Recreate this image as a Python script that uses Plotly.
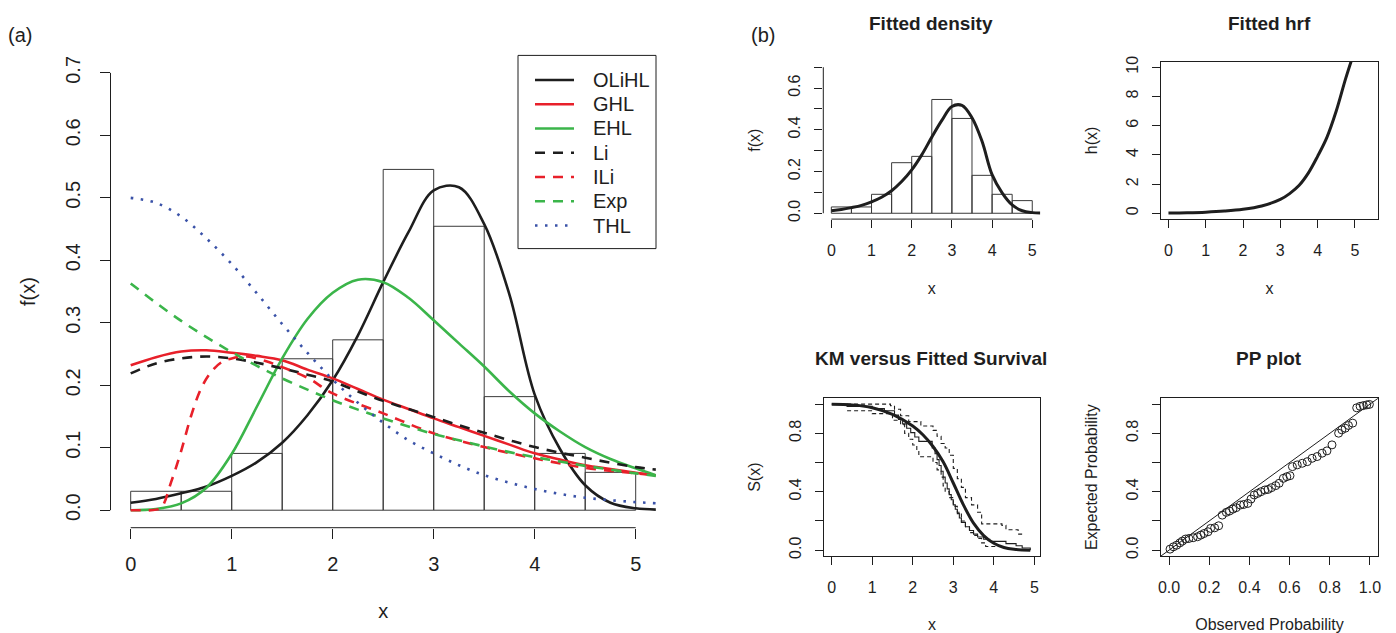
import plotly.graph_objects as go

# ---------------- data ----------------
bin_edges = [0, 0.5, 1.0, 1.5, 2.0, 2.5, 3.0, 3.5, 4.0, 4.5, 5.0]
hist_density = [0.0303, 0.0303, 0.0909, 0.2424, 0.2727, 0.5455, 0.4545, 0.1818, 0.0909, 0.0606]

x_grid = [0, 0.25, 0.5, 0.75, 1.0, 1.25, 1.5, 1.75, 2.0, 2.25, 2.5, 2.75,
          3.0, 3.25, 3.5, 3.75, 4.0, 4.25, 4.5, 4.75, 5.0, 5.2]
olihl = [0.012, 0.018, 0.027, 0.038, 0.055, 0.077, 0.108, 0.152, 0.208, 0.280, 0.365, 0.445,
         0.512, 0.517, 0.458, 0.345, 0.185, 0.098, 0.040, 0.012, 0.003, 0.001]
ghl = [0.232, 0.245, 0.254, 0.256, 0.252, 0.247, 0.240, 0.225, 0.211, 0.194, 0.177, 0.162,
       0.147, 0.133, 0.119, 0.105, 0.091, 0.081, 0.072, 0.066, 0.060, 0.056]
ehl = [0.0, 0.002, 0.011, 0.036, 0.090, 0.166, 0.243, 0.306, 0.348, 0.369, 0.365, 0.340,
       0.304, 0.267, 0.230, 0.190, 0.155, 0.126, 0.101, 0.082, 0.067, 0.056]
li = [0.219, 0.235, 0.243, 0.246, 0.243, 0.236, 0.227, 0.217, 0.206, 0.190, 0.175, 0.162,
      0.149, 0.136, 0.124, 0.112, 0.101, 0.092, 0.084, 0.076, 0.069, 0.065]
exp_ = [0.363, 0.332, 0.303, 0.277, 0.253, 0.231, 0.211, 0.193, 0.176, 0.161, 0.147, 0.134,
        0.122, 0.112, 0.102, 0.093, 0.085, 0.078, 0.071, 0.065, 0.059, 0.055]
thl = [0.500, 0.492, 0.470, 0.435, 0.394, 0.347, 0.298, 0.252, 0.209, 0.172, 0.140, 0.112,
       0.091, 0.072, 0.056, 0.044, 0.034, 0.026, 0.020, 0.016, 0.013, 0.011]
ili_x = [0, 0.1, 0.2, 0.3, 0.4, 0.5, 0.6, 0.7, 0.8, 0.9, 1.0, 1.15, 1.35, 1.5, 1.75,
         2.0, 2.5, 3.0, 3.5, 4.0, 4.5, 5.0, 5.2]
ili = [0.0, 0.0, 0.0, 0.004, 0.045, 0.095, 0.152, 0.196, 0.222, 0.237, 0.243, 0.246, 0.238,
       0.229, 0.212, 0.187, 0.155, 0.123, 0.101, 0.083, 0.068, 0.059, 0.056]

hrf_x = [0, 0.5, 1.0, 1.5, 2.0, 2.5, 3.0, 3.25, 3.5, 3.75, 4.0, 4.25, 4.5, 4.75, 4.95]
hrf = [0.02, 0.04, 0.08, 0.15, 0.27, 0.50, 0.95, 1.35, 1.90, 2.75, 3.90, 5.20, 7.00, 9.20, 10.80]

surv_x = [0, 0.5, 1.0, 1.5, 2.0, 2.25, 2.5, 2.75, 3.0, 3.25, 3.5, 3.75, 4.0, 4.25, 4.5, 4.9]
surv_fit = [1.0, 0.995, 0.975, 0.93, 0.85, 0.79, 0.71, 0.605, 0.46, 0.31, 0.185, 0.10,
            0.047, 0.018, 0.006, 0.0]

km_t = [0, 0.38, 1.0, 1.3, 1.55, 1.65, 1.75, 1.85, 1.95, 2.05, 2.15, 2.48, 2.55, 2.6, 2.65,
        2.7, 2.75, 2.8, 2.85, 2.9, 2.95, 3.0, 3.05, 3.1, 3.15, 3.2, 3.3, 3.4, 3.5, 3.6, 3.75,
        3.9, 4.3, 4.55, 4.7, 4.9]
km_s = [1.0, 0.985, 0.97, 0.955, 0.925, 0.895, 0.865, 0.835, 0.805, 0.775, 0.745, 0.70, 0.66,
        0.62, 0.58, 0.54, 0.50, 0.46, 0.42, 0.38, 0.345, 0.31, 0.28, 0.25, 0.22, 0.19, 0.16,
        0.135, 0.11, 0.09, 0.075, 0.06, 0.045, 0.03, 0.015, 0.0]
km_up_t = [0.38, 1.45, 1.55, 1.7, 1.9, 2.2, 2.5, 2.6, 2.7, 2.8, 2.9, 3.0, 3.1, 3.2, 3.3,
           3.45, 3.6, 3.7, 4.2, 4.3, 4.6, 4.75]
km_up = [1.0, 0.99, 0.965, 0.92, 0.88, 0.85, 0.82, 0.78, 0.73, 0.70, 0.65, 0.56, 0.49, 0.43,
         0.36, 0.31, 0.26, 0.18, 0.17, 0.14, 0.11, 0.11]
km_lo_t = [0.38, 1.0, 1.5, 1.7, 1.8, 1.9, 2.0, 2.1, 2.15, 2.5, 2.6, 2.7, 2.75, 2.8, 2.9, 3.0,
           3.1, 3.2, 3.3, 3.4, 3.5, 3.6, 3.7, 3.8, 4.25]
km_lo = [0.955, 0.935, 0.89, 0.86, 0.80, 0.76, 0.72, 0.68, 0.64, 0.60, 0.55, 0.50, 0.44,
         0.40, 0.36, 0.30, 0.26, 0.20, 0.16, 0.12, 0.10, 0.08, 0.05, 0.025, 0.025]

pp_obs = [0.005, 0.022, 0.038, 0.054, 0.066, 0.082, 0.099, 0.120, 0.142, 0.158, 0.174, 0.194,
          0.207, 0.227, 0.247,
          0.265, 0.285, 0.301, 0.318, 0.334, 0.355, 0.372, 0.392, 0.408, 0.424, 0.441, 0.457,
          0.477, 0.493, 0.510, 0.531, 0.548, 0.569, 0.586, 0.602,
          0.614, 0.638, 0.663, 0.688, 0.712, 0.737, 0.762, 0.786, 0.811,
          0.844, 0.860, 0.877, 0.893, 0.914,
          0.934, 0.951, 0.967, 0.984, 0.997]
pp_exp = [0.007, 0.023, 0.034, 0.050, 0.062, 0.076, 0.080, 0.085, 0.092, 0.103, 0.114, 0.126,
          0.149, 0.153, 0.167,
          0.240, 0.259, 0.268, 0.281, 0.291, 0.309, 0.313, 0.320, 0.350, 0.378, 0.389, 0.400,
          0.412, 0.416, 0.428, 0.442, 0.458, 0.492, 0.503, 0.510,
          0.572, 0.584, 0.595, 0.606, 0.629, 0.641, 0.664, 0.680, 0.721,
          0.801, 0.824, 0.835, 0.854, 0.870,
          0.975, 0.985, 0.990, 0.995, 0.998]

# ---------------- styling ----------------
FONT = "Liberation Sans, Arial, Helvetica, sans-serif"
INK = "#1e1e1e"
RED = "#E8202A"
GREEN = "#3BB54A"
BLUE = "#3A52A8"
W, H = 1396, 633
DASH = "10px,8px"
DOT = "2.5px,7.5px"


def xd(p0, p1):
    return [p0 / W, p1 / W]


def yd(p_top, p_bot):
    return [1 - p_bot / H, 1 - p_top / H]


bin_centers = [(a + b) / 2 for a, b in zip(bin_edges[:-1], bin_edges[1:])]
bin_width = bin_edges[1] - bin_edges[0]

fig = go.Figure()

# ---- panel (a) ----
fig.add_trace(go.Bar(x=bin_centers, y=hist_density, width=bin_width, xaxis="x", yaxis="y",
                     marker=dict(color="rgba(0,0,0,0)", line=dict(color="#3a3a3a", width=1)),
                     showlegend=False, hoverinfo="skip"))
series = [
    ("OLiHL", x_grid, olihl, INK, "solid"),
    ("GHL", x_grid, ghl, RED, "solid"),
    ("EHL", x_grid, ehl, GREEN, "solid"),
    ("Li", x_grid, li, INK, DASH),
    ("ILi", ili_x, ili, RED, DASH),
    ("Exp", x_grid, exp_, GREEN, DASH),
    ("THL", x_grid, thl, BLUE, DOT),
]
for name, xs, ys, col, dash in series:
    fig.add_trace(go.Scatter(x=xs, y=ys, name=name, mode="lines", xaxis="x", yaxis="y",
                             line=dict(color=col, width=2.6, dash=dash, shape="spline",
                                       smoothing=1.0), showlegend=False))

# ---- panel (b): fitted density ----
fig.add_trace(go.Bar(x=bin_centers, y=hist_density, width=bin_width, xaxis="x2", yaxis="y2",
                     marker=dict(color="rgba(0,0,0,0)", line=dict(color="#3a3a3a", width=1)),
                     showlegend=False, hoverinfo="skip"))
fig.add_trace(go.Scatter(x=x_grid, y=olihl, mode="lines", xaxis="x2", yaxis="y2",
                         line=dict(color=INK, width=3, shape="spline", smoothing=1.0),
                         showlegend=False))

# ---- fitted hrf ----
fig.add_trace(go.Scatter(x=hrf_x, y=hrf, mode="lines", xaxis="x3", yaxis="y3",
                         line=dict(color=INK, width=3, shape="spline", smoothing=1.0),
                         showlegend=False))

# ---- KM vs fitted survival ----
for xs, ys in [(km_up_t, km_up), (km_lo_t, km_lo)]:
    fig.add_trace(go.Scatter(x=xs, y=ys, mode="lines", xaxis="x4", yaxis="y4",
                             line=dict(color=INK, width=1.1, dash="4px,3px", shape="hv"),
                             showlegend=False))
fig.add_trace(go.Scatter(x=km_t, y=km_s, mode="lines", xaxis="x4", yaxis="y4",
                         line=dict(color=INK, width=1.1, shape="hv"), showlegend=False))
fig.add_trace(go.Scatter(x=surv_x, y=surv_fit, mode="lines", xaxis="x4", yaxis="y4",
                         line=dict(color=INK, width=3, shape="spline", smoothing=1.0),
                         showlegend=False))

# ---- PP plot ----
pp_range = [-0.04, 1.04]
fig.add_trace(go.Scatter(x=pp_range, y=pp_range, mode="lines", xaxis="x5", yaxis="y5",
                         line=dict(color=INK, width=1), showlegend=False))
fig.add_trace(go.Scatter(x=pp_obs, y=pp_exp, mode="markers", xaxis="x5", yaxis="y5",
                         marker=dict(symbol="circle-open", size=8, color=INK,
                                     line=dict(width=1, color=INK)),
                         showlegend=False))


def axis(domain, rng, tickvals, ticktext, anchor, fsize, title, tfsize, standoff,
         ticklen, tls, box=False, angle=0):
    d = dict(domain=domain, range=rng, tickvals=tickvals, ticktext=ticktext, anchor=anchor,
             ticks="outside", ticklen=ticklen, tickwidth=1, tickcolor=INK,
             showgrid=False, zeroline=False, tickangle=angle,
             tickfont=dict(family=FONT, size=fsize, color=INK),
             title=dict(text=title, font=dict(family=FONT, size=tfsize, color=INK),
                        standoff=standoff),
             ticklabelstandoff=tls, automargin=False, fixedrange=True)
    if box:
        d.update(showline=True, linecolor=INK, linewidth=1, mirror=True)
    else:
        d.update(showline=False)
    return d


def labels(vals, keep_every=1, fmt="{:.1f}"):
    return [fmt.format(v) if i % keep_every == 0 else "" for i, v in enumerate(vals)]


xt5 = [0, 1, 2, 3, 4, 5]
xt5_txt = [str(v) for v in xt5]
ya_vals = [0.0, 0.1, 0.2, 0.3, 0.4, 0.5, 0.6, 0.7]
yb_vals = [0.0, 0.2, 0.4, 0.6, 0.8, 1.0]
hrf_vals = [0, 2, 4, 6, 8, 10]
pp_x_vals = [0.0, 0.2, 0.4, 0.6, 0.8, 1.0]

fig.update_layout(
    width=W, height=H, margin=dict(l=0, r=0, t=0, b=0), autosize=False,
    paper_bgcolor="white", plot_bgcolor="white", barmode="overlay",
    font=dict(family=FONT, color=INK), showlegend=False, hovermode=False,
    xaxis=axis(xd(110.5, 655.9), [-0.2, 5.2], xt5, xt5_txt, "y", 20, "x", 20, 30, 10, 8),
    yaxis=axis(yd(55.4, 527.7), [-0.028, 0.728], ya_vals, labels(ya_vals), "x", 20, "f(x)",
               20, 20, 10, 12, angle=-90),
    xaxis2=axis(xd(823.3, 1040.3), [-0.2, 5.2], xt5, xt5_txt, "y2", 16, "x", 16, 24, 8, 9),
    yaxis2=axis(yd(61.4, 219.1), [-0.028, 0.728], ya_vals, labels(ya_vals, 2), "x2", 16,
                "f(x)", 16, 21, 8, 8, angle=-90),
    xaxis3=axis(xd(1161, 1378), [-0.2, 5.62], xt5, xt5_txt, "y3", 16, "x", 16, 24, 8, 9,
                box=True),
    yaxis3=axis(yd(61.7, 219), [-0.39, 10.38], hrf_vals, [str(v) for v in hrf_vals], "x3", 16,
                "h(x)", 16, 21, 8, 8, box=True, angle=-90),
    xaxis4=axis(xd(824, 1040), [-0.19, 5.14], xt5, xt5_txt, "y4", 16, "x", 16, 24, 8, 9,
                box=True),
    yaxis4=axis(yd(398.3, 556), [-0.04, 1.04], yb_vals, labels(yb_vals, 2), "x4", 16,
                "S(x)", 16, 21, 8, 8, box=True, angle=-90),
    xaxis5=axis(xd(1161, 1378), pp_range, pp_x_vals, labels(pp_x_vals), "y5", 16,
                "Observed Probability", 16, 24, 8, 9, box=True),
    yaxis5=axis(yd(398.3, 556), pp_range, yb_vals, labels(yb_vals, 2), "x5", 16,
                "Expected Probability", 16, 21, 8, 8, box=True, angle=-90),
)

# R-style axis lines spanning first..last tick (no box) for panel (a) and fitted density
shapes = []
for xa, ya, xt, yt in [("x", "y", xt5, ya_vals), ("x2", "y2", xt5, ya_vals)]:
    shapes.append(dict(type="line", xref=xa, yref=f"{ya} domain", x0=xt[0], x1=xt[-1],
                       y0=0, y1=0, line=dict(color=INK, width=1)))
    shapes.append(dict(type="line", xref=f"{xa} domain", yref=ya, x0=0, x1=0,
                       y0=yt[0], y1=yt[-1], line=dict(color=INK, width=1)))

# legend box (R legend("topright")) for panel (a)
LEG_L, LEG_R, LEG_T, LEG_B = 518, 656, 55.4, 248.6
ROW0, ROW_STEP = 80.0, 24.25
shapes.append(dict(type="rect", xref="paper", yref="paper", x0=LEG_L / W, x1=LEG_R / W,
                   y0=1 - LEG_B / H, y1=1 - LEG_T / H, fillcolor="white",
                   line=dict(color=INK, width=1), layer="above"))
ann = []
for i, (name, _xs, _ys, col, dash) in enumerate(series):
    ry = 1 - (ROW0 + i * ROW_STEP) / H
    shapes.append(dict(type="line", xref="paper", yref="paper", x0=535 / W, x1=574 / W,
                       y0=ry, y1=ry, line=dict(color=col, width=2.6, dash=dash),
                       layer="above"))
    ann.append(dict(text=name, x=590.5 / W, y=ry, xref="paper", yref="paper",
                    showarrow=False, xanchor="left", yanchor="middle",
                    font=dict(family=FONT, size=20, color=INK)))
fig.update_layout(shapes=shapes)

for text, px, py, size, bold in [
    ("(a)", 20, 35, 20, False), ("(b)", 763, 35, 20, False),
    ("Fitted density", 931, 23, 19, True), ("Fitted hrf", 1269, 23, 19, True),
    ("KM versus Fitted Survival", 931, 358, 19, True), ("PP plot", 1269, 358, 19, True),
]:
    ann.append(dict(text=f"<b>{text}</b>" if bold else text, x=px / W, y=1 - py / H,
                    xref="paper", yref="paper", showarrow=False, xanchor="center",
                    yanchor="middle", font=dict(family=FONT, size=size, color=INK)))
fig.update_layout(annotations=ann)

fig.write_html("out.html", config={"displayModeBar": False, "staticPlot": True},
               post_script="document.body.style.margin='0px';"
                           "document.body.style.overflow='hidden';")
